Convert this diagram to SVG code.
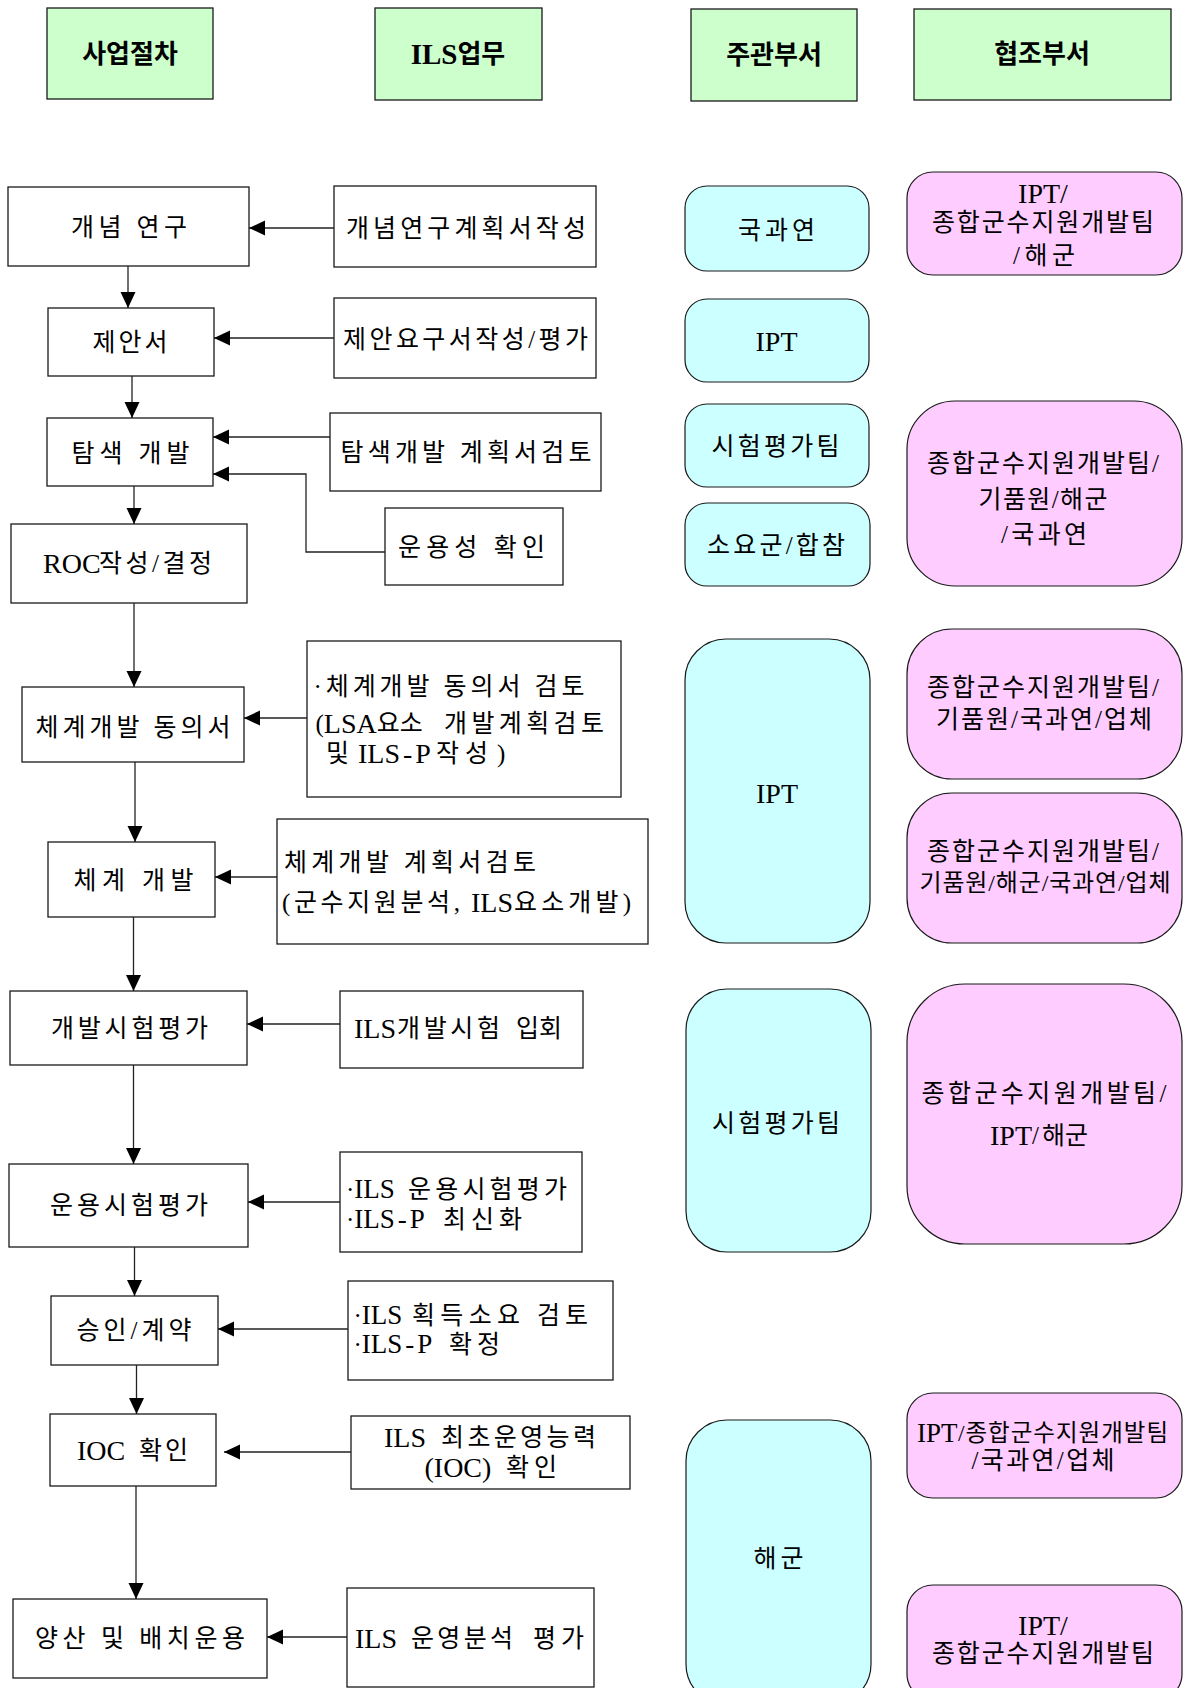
<svg xmlns="http://www.w3.org/2000/svg" width="1183" height="1688" viewBox="0 0 1183 1688">
  <style>
    text { font-family: "Liberation Serif", "Noto Sans CJK KR", serif; font-size: 25px; fill: #000; dominant-baseline: central; }
    .l { font-size: 28px; }
    .l2 { font-size: 27px; }
    .mid { text-anchor: middle; }
    .hdr rect { fill: #ccffcc; stroke: #1a1a1a; stroke-width: 1.3; }
    .hdr text { font-weight: bold; font-size: 26px; text-anchor: middle; }
    .hdr .l { font-size: 29px; }
    .step rect, .task rect { fill: #fff; stroke: #1a1a1a; stroke-width: 1.3; }
    .lead rect { fill: #ccffff; stroke: #1a1a1a; stroke-width: 1.2; }
    .coop rect { fill: #ffccff; stroke: #1a1a1a; stroke-width: 1.2; }
    #connectors path { fill: none; stroke: #222; stroke-width: 1.3; marker-end: url(#arrow); }
  </style>
  <defs>
    <marker id="arrow" markerUnits="userSpaceOnUse" markerWidth="17" markerHeight="16" refX="16" refY="7.5" orient="auto">
      <path d="M0,0 L16,7.5 L0,15 z" fill="#000"/>
    </marker>
  </defs>

  <rect width="1183" height="1688" fill="#fff"/>

  <!-- column headers -->
  <g id="hdr-procedure" class="hdr"><rect x="47" y="8" width="166" height="91"/><text x="130" y="54">사업절차</text></g>
  <g id="hdr-ils" class="hdr"><rect x="375" y="8" width="167" height="92"/><text x="458" y="54"><tspan class="l">ILS</tspan>업무</text></g>
  <g id="hdr-lead" class="hdr"><rect x="691" y="9" width="166" height="92"/><text x="774" y="55">주관부서</text></g>
  <g id="hdr-coop" class="hdr"><rect x="914" y="9" width="257" height="91"/><text x="1042" y="54">협조부서</text></g>

  <!-- procedure steps -->
  <g id="step-concept" class="step"><rect x="8" y="187" width="241" height="79"/><text class="mid" x="129" y="227" textLength="116" lengthAdjust="spacing">개념 연구</text></g>
  <g id="step-proposal" class="step"><rect x="48" y="308" width="166" height="68"/><text class="mid" x="130" y="342" textLength="75" lengthAdjust="spacing">제안서</text></g>
  <g id="step-explore" class="step"><rect x="47" y="418" width="166" height="68"/><text class="mid" x="130.5" y="453" textLength="118" lengthAdjust="spacing">탐색 개발</text></g>
  <g id="step-roc" class="step"><rect x="11" y="524" width="236" height="79"/><text x="43" y="563"><tspan class="l">ROC</tspan><tspan x="99" textLength="113" lengthAdjust="spacing">작성/결정</tspan></text></g>
  <g id="step-agreement" class="step"><rect x="22" y="687" width="222" height="75"/><text class="mid" x="133" y="727" textLength="195" lengthAdjust="spacing">체계개발 동의서</text></g>
  <g id="step-sysdev" class="step"><rect x="48" y="842" width="167" height="75"/><text class="mid" x="133.5" y="880" textLength="120" lengthAdjust="spacing">체계 개발</text></g>
  <g id="step-devtest" class="step"><rect x="10" y="991" width="237" height="74"/><text class="mid" x="129.5" y="1028" textLength="157" lengthAdjust="spacing">개발시험평가</text></g>
  <g id="step-optest" class="step"><rect x="9" y="1164" width="239" height="83"/><text class="mid" x="129" y="1205" textLength="158" lengthAdjust="spacing">운용시험평가</text></g>
  <g id="step-contract" class="step"><rect x="51" y="1296" width="167" height="69"/><text class="mid" x="134" y="1330" textLength="115" lengthAdjust="spacing">승인/계약</text></g>
  <g id="step-ioc" class="step"><rect x="50" y="1414" width="166" height="72"/><text x="77" y="1450"><tspan class="l">IOC</tspan> <tspan x="139" textLength="49" lengthAdjust="spacing">확인</tspan></text></g>
  <g id="step-production" class="step"><rect x="13" y="1599" width="254" height="79"/><text class="mid" x="140" y="1638" textLength="210" lengthAdjust="spacing">양산 및 배치운용</text></g>

  <!-- ILS tasks -->
  <g id="task-concept-plan" class="task"><rect x="334" y="186" width="262" height="81"/><text class="mid" x="466" y="228" textLength="240" lengthAdjust="spacing">개념연구계획서작성</text></g>
  <g id="task-rfp" class="task"><rect x="334" y="298" width="262" height="80"/><text class="mid" x="465.5" y="339" textLength="245" lengthAdjust="spacing">제안요구서작성/평가</text></g>
  <g id="task-explore-plan" class="task"><rect x="330" y="413" width="271" height="78"/><text class="mid" x="466" y="452" textLength="251" lengthAdjust="spacing">탐색개발 계획서검토</text></g>
  <g id="task-operability" class="task"><rect x="385" y="508" width="178" height="77"/><text class="mid" x="471.5" y="547" textLength="147" lengthAdjust="spacing">운용성 확인</text></g>
  <g id="task-agreement-review" class="task"><rect x="307" y="641" width="314" height="156"/>
    <text x="313.5" y="686" textLength="271" lengthAdjust="spacing">·체계개발 동의서 검토</text>
    <text x="315.5" y="723">(<tspan class="l">LSA</tspan>요소 <tspan x="444" textLength="160" lengthAdjust="spacing">개발계획검토</tspan></text>
    <text x="326" y="753">및 <tspan class="l" x="358">ILS<tspan dx="3">-</tspan><tspan dx="3">P</tspan></tspan><tspan x="436" textLength="52" lengthAdjust="spacing">작성</tspan><tspan x="497">)</tspan></text>
  </g>
  <g id="task-sysdev-plan" class="task"><rect x="277" y="819" width="371" height="125"/>
    <text x="284" y="862" textLength="252" lengthAdjust="spacing">체계개발 계획서검토</text>
    <text x="282" y="902"><tspan textLength="178" lengthAdjust="spacing">(군수지원분석,</tspan> <tspan class="l" x="471">ILS</tspan><tspan x="514" textLength="117" lengthAdjust="spacing">요소개발)</tspan></text>
  </g>
  <g id="task-devtest" class="task"><rect x="340" y="991" width="243" height="77"/><text x="354" y="1028"><tspan class="l">ILS</tspan><tspan x="397" textLength="103" lengthAdjust="spacing">개발시험</tspan> <tspan x="516">입회</tspan></text></g>
  <g id="task-optest" class="task"><rect x="340" y="1152" width="242" height="100"/>
    <text x="346" y="1189">·<tspan class="l2">ILS</tspan> <tspan x="408" textLength="159" lengthAdjust="spacing">운용시험평가</tspan></text>
    <text x="346" y="1219">·<tspan class="l2">ILS<tspan dx="3">-</tspan><tspan dx="3">P</tspan></tspan> <tspan x="443" textLength="79" lengthAdjust="spacing">최신화</tspan></text>
  </g>
  <g id="task-contract" class="task"><rect x="348" y="1281" width="265" height="99"/>
    <text x="353.5" y="1315">·<tspan class="l2">ILS</tspan> <tspan x="412" textLength="108" lengthAdjust="spacing">획득소요</tspan> <tspan x="537" textLength="51" lengthAdjust="spacing">검토</tspan></text>
    <text x="353.5" y="1344">·<tspan class="l2">ILS<tspan dx="3">-</tspan><tspan dx="3">P</tspan></tspan> <tspan x="449" textLength="51" lengthAdjust="spacing">확정</tspan></text>
  </g>
  <g id="task-ioc" class="task"><rect x="351" y="1416" width="279" height="73"/>
    <text x="384" y="1437"><tspan class="l">ILS</tspan> <tspan x="441" textLength="155" lengthAdjust="spacing">최초운영능력</tspan></text>
    <text x="424.5" y="1467"><tspan class="l">(IOC)</tspan> <tspan x="506" textLength="51" lengthAdjust="spacing">확인</tspan></text>
  </g>
  <g id="task-ops-analysis" class="task"><rect x="347" y="1588" width="247" height="99"/><text x="355" y="1638"><tspan class="l">ILS</tspan> <tspan x="411" textLength="102" lengthAdjust="spacing">운영분석</tspan> <tspan x="533" textLength="51" lengthAdjust="spacing">평가</tspan></text></g>

  <!-- lead departments -->
  <g id="lead-add" class="lead"><rect x="685" y="186" width="184" height="85" rx="22"/><text class="mid" x="776.5" y="230" textLength="77" lengthAdjust="spacing">국과연</text></g>
  <g id="lead-ipt-1" class="lead"><rect x="685" y="299" width="184" height="83" rx="22"/><text class="mid l" x="776.5" y="341">IPT</text></g>
  <g id="lead-test-1" class="lead"><rect x="685" y="404" width="184" height="83" rx="22"/><text class="mid" x="775.5" y="446" textLength="128" lengthAdjust="spacing">시험평가팀</text></g>
  <g id="lead-jcs" class="lead"><rect x="685" y="503" width="185" height="83" rx="22"/><text class="mid" x="776" y="545" textLength="138" lengthAdjust="spacing">소요군/합참</text></g>
  <g id="lead-ipt-2" class="lead"><rect x="685" y="639" width="185" height="304" rx="41"/><text class="mid l" x="777" y="793">IPT</text></g>
  <g id="lead-test-2" class="lead"><rect x="686" y="989" width="185" height="263" rx="41"/><text class="mid" x="776" y="1123" textLength="128" lengthAdjust="spacing">시험평가팀</text></g>
  <g id="lead-navy" class="lead"><rect x="686" y="1420" width="185" height="285" rx="41"/><text class="mid" x="778.5" y="1558" textLength="50" lengthAdjust="spacing">해군</text></g>

  <!-- cooperating departments -->
  <g id="coop-1" class="coop"><rect x="907" y="172" width="275" height="103" rx="26"/>
    <text class="mid l" x="1043" y="193">IPT/</text>
    <text class="mid" x="1043" y="222" textLength="222" lengthAdjust="spacing">종합군수지원개발팀</text>
    <text class="mid" x="1044" y="255" textLength="62" lengthAdjust="spacing">/해군</text>
  </g>
  <g id="coop-2" class="coop"><rect x="907" y="401" width="275" height="185" rx="48"/>
    <text class="mid" x="1043" y="463" textLength="232" lengthAdjust="spacing">종합군수지원개발팀/</text>
    <text class="mid" x="1043" y="499" textLength="129" lengthAdjust="spacing">기품원/해군</text>
    <text class="mid" x="1044" y="534" textLength="86" lengthAdjust="spacing">/국과연</text>
  </g>
  <g id="coop-3" class="coop"><rect x="907" y="629" width="275" height="150" rx="45"/>
    <text class="mid" x="1043" y="687" textLength="232" lengthAdjust="spacing">종합군수지원개발팀/</text>
    <text class="mid" x="1044" y="719" textLength="216" lengthAdjust="spacing">기품원/국과연/업체</text>
  </g>
  <g id="coop-4" class="coop"><rect x="907" y="793" width="275" height="150" rx="45"/>
    <text class="mid" x="1043" y="851" textLength="232" lengthAdjust="spacing">종합군수지원개발팀/</text>
    <text class="mid" x="1045" y="883" style="font-size:24px" textLength="251" lengthAdjust="spacing">기품원/해군/국과연/업체</text>
  </g>
  <g id="coop-5" class="coop"><rect x="907" y="984" width="275" height="260" rx="58"/>
    <text class="mid" x="1044" y="1093" textLength="245" lengthAdjust="spacing">종합군수지원개발팀/</text>
    <text x="990" y="1135"><tspan class="l">IPT</tspan>/<tspan x="1042">해군</tspan></text>
  </g>
  <g id="coop-6" class="coop"><rect x="907" y="1393" width="275" height="105" rx="26"/>
    <text x="917" y="1433"><tspan class="l2">IPT</tspan><tspan x="958" style="font-size:23.5px" textLength="210" lengthAdjust="spacing">/종합군수지원개발팀</tspan></text>
    <text class="mid" x="1043" y="1460" textLength="143" lengthAdjust="spacing">/국과연/업체</text>
  </g>
  <g id="coop-7" class="coop"><rect x="907" y="1585" width="275" height="115" rx="26"/>
    <text class="mid l" x="1043" y="1625">IPT/</text>
    <text class="mid" x="1043" y="1653" textLength="222" lengthAdjust="spacing">종합군수지원개발팀</text>
  </g>

  <!-- connectors -->
  <g id="connectors">
    <path d="M128,266 V308"/>
    <path d="M132,376 V418"/>
    <path d="M134,486 V524"/>
    <path d="M134,603 V687"/>
    <path d="M135,762 V842"/>
    <path d="M133.5,917 V991"/>
    <path d="M133.5,1065 V1164"/>
    <path d="M134.5,1247 V1296"/>
    <path d="M136.5,1365 V1414"/>
    <path d="M136,1486 V1599"/>

    <path d="M334,228 H249"/>
    <path d="M334,338 H214"/>
    <path d="M330,437 H213"/>
    <path d="M385,552 H306 V474 H213"/>
    <path d="M307,718 H244"/>
    <path d="M277,877 H215"/>
    <path d="M340,1024 H247"/>
    <path d="M340,1202 H248"/>
    <path d="M348,1329 H218"/>
    <path d="M351,1452 H224"/>
    <path d="M347,1637 H267"/>
  </g>
</svg>
